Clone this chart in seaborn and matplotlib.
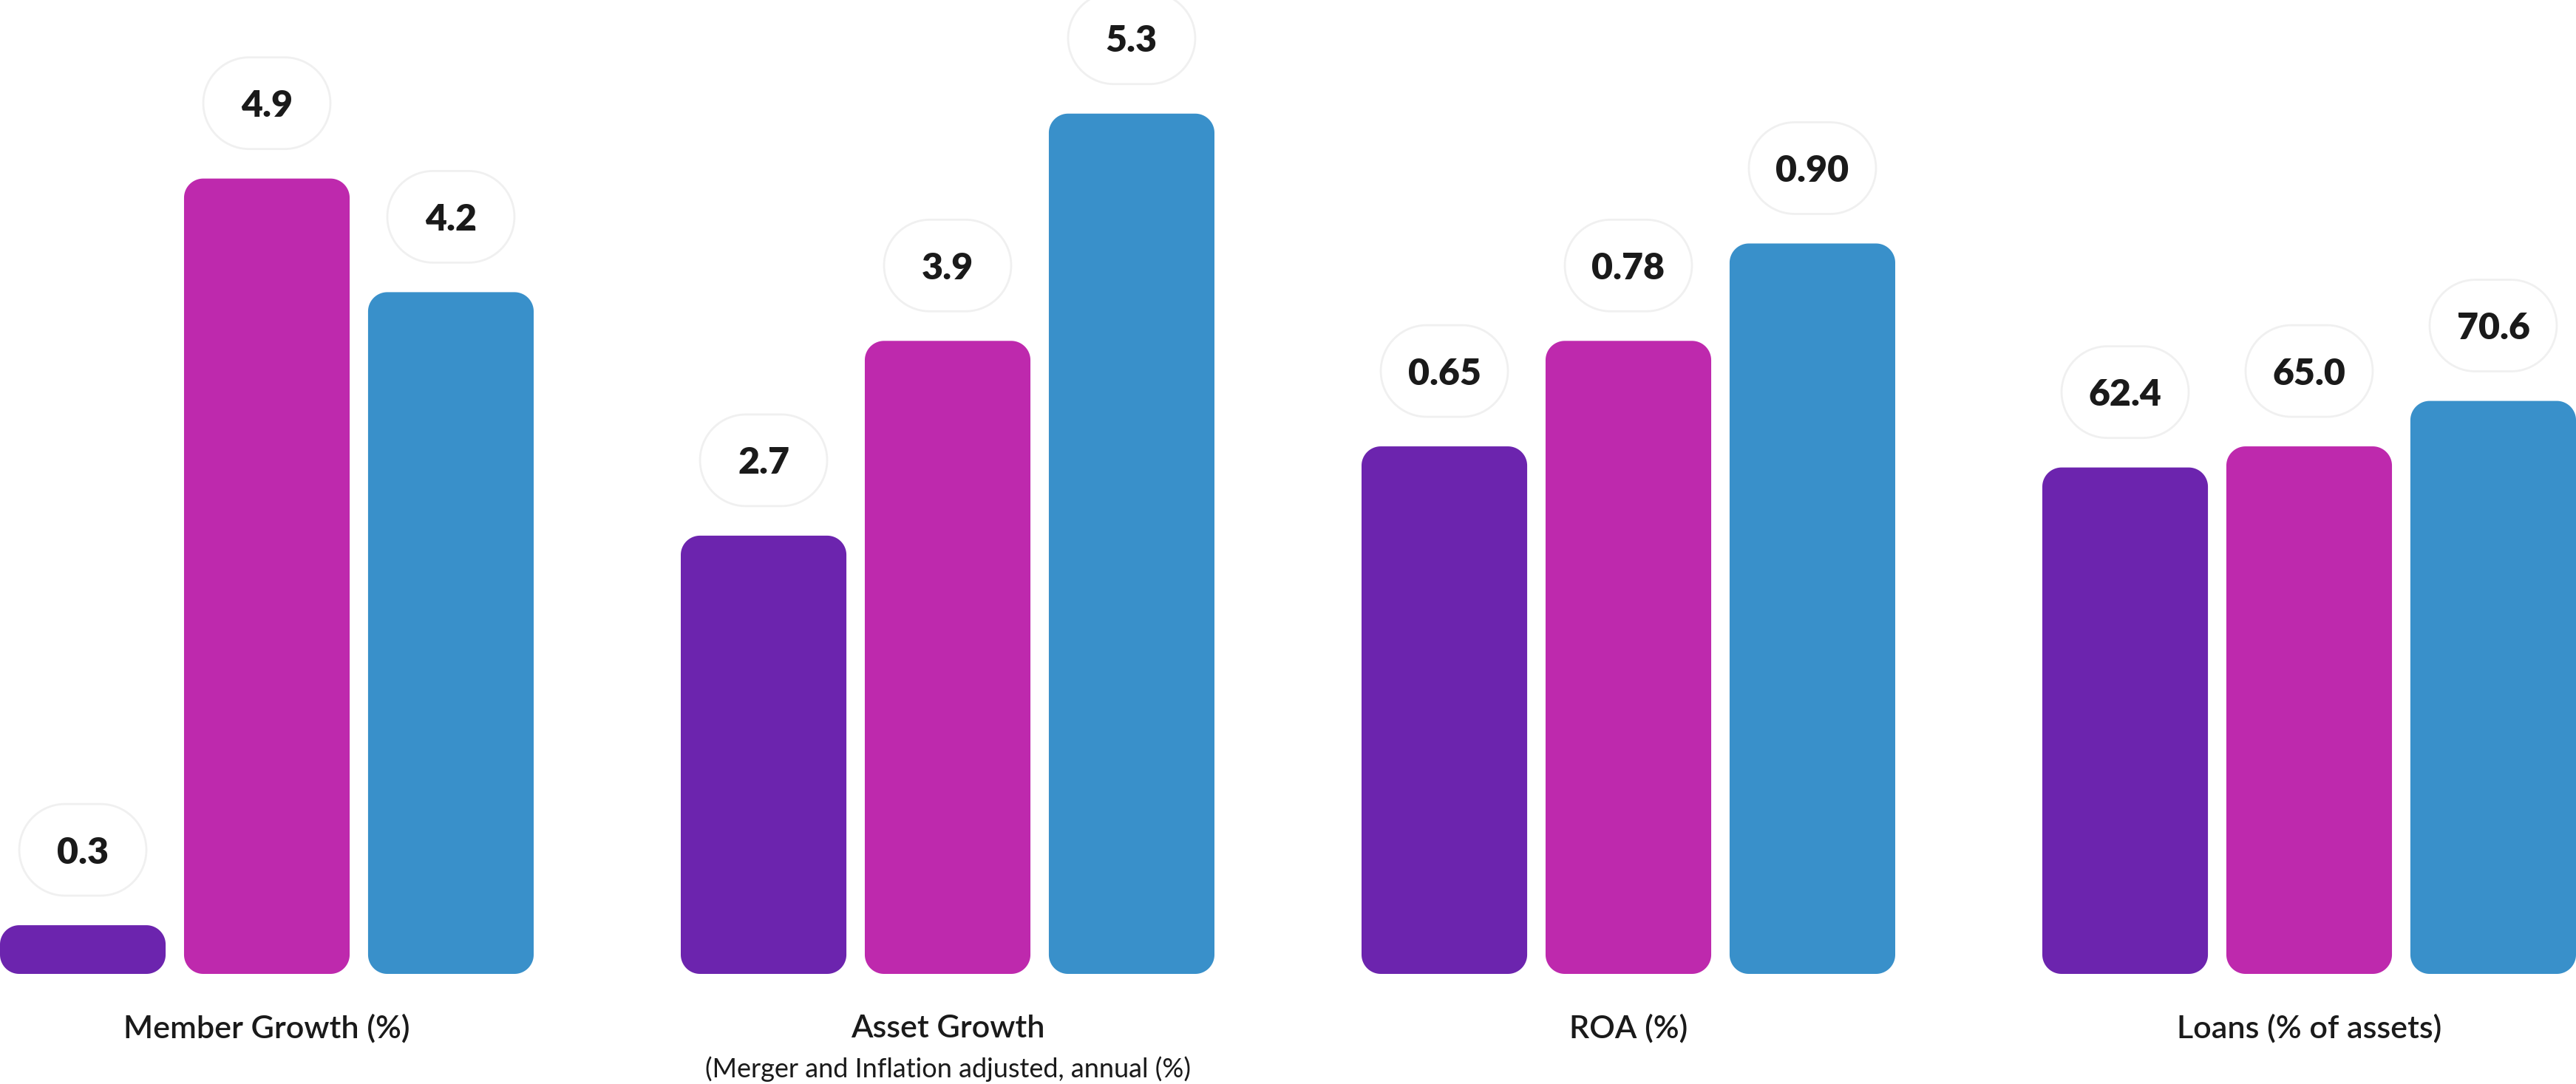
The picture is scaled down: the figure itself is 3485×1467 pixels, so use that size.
import matplotlib
matplotlib.use("Agg")
import matplotlib.pyplot as plt
from matplotlib.patches import Polygon
from matplotlib.transforms import IdentityTransform
import seaborn as sns
import pandas as pd
import numpy as np

# data
metrics = ["Member Growth (%)", "Asset Growth", "ROA (%)", "Loans (% of assets)"]
subtitles = ["", "(Merger and Inflation adjusted, annual (%)", "", ""]
series = ["A", "B", "C"]
values = [
    [0.3, 4.9, 4.2],
    [2.7, 3.9, 5.3],
    [0.65, 0.78, 0.90],
    [62.4, 65.0, 70.6],
]
labels = [
    ["0.3", "4.9", "4.2"],
    ["2.7", "3.9", "5.3"],
    ["0.65", "0.78", "0.90"],
    ["62.4", "65.0", "70.6"],
]
ytops = [6, 6, 1.2, 120]
colors = ["#6C24AE", "#BE29AD", "#3990CA"]


def rounded_rect(x, y, w, h, r, **kw):
    # polygon with circular corners, pixel coords
    r = min(r, w / 2, h / 2)
    pts = []
    for cx, cy, a0 in [(x + w - r, y + r, -90), (x + w - r, y + h - r, 0),
                       (x + r, y + h - r, 90), (x + r, y + r, 180)]:
        t = np.radians(np.linspace(a0, a0 + 90, 24))
        pts.append(np.column_stack([cx + r * np.cos(t), cy + r * np.sin(t)]))
    return Polygon(np.vstack(pts), closed=True, transform=IdentityTransform(),
                   clip_on=False, **kw)


sns.set_theme(style="white")
plt.rcParams['font.family'] = ['Lato', 'DejaVu Sans']

W, H = 3485, 1467
fig = plt.figure(figsize=(W / 100, H / 100), dpi=100)

bottom_px = 149
group_w = 722
step = 921

for i in range(4):
    ax = fig.add_axes([i * step / W, bottom_px / H, group_w / W, (H - bottom_px) / H])
    df = pd.DataFrame({"series": series, "value": values[i]})
    sns.barplot(data=df, x="series", y="value", hue="series", palette=colors,
                saturation=1, width=0.9, legend=False, ax=ax)
    ax.set_xlim(-0.45, 2.45)
    ax.set_ylim(0, ytops[i])
    ax.axis("off")

    # swap bars for rounded ones
    bars = list(ax.patches)
    for j, p in enumerate(bars):
        x0, y0 = ax.transData.transform((p.get_x(), p.get_y()))
        x1, y1 = ax.transData.transform((p.get_x() + p.get_width(), p.get_y() + p.get_height()))
        fig.patches.append(rounded_rect(x0, y0, x1 - x0, y1 - y0, 26,
                                        facecolor=p.get_facecolor(), edgecolor="none", zorder=2))
        p.remove()

        # value pill
        cx = (x0 + x1) / 2
        pw, ph = 172, 124
        py = y1 + 40
        fig.patches.append(rounded_rect(cx - pw / 2, py, pw, ph, ph / 2, facecolor="white",
                                        edgecolor="#F0F0F0", linewidth=2, zorder=3))
        fig.text(cx / W, (py + ph / 2) / H, labels[i][j], ha="center", va="center_baseline",
                 fontsize=36, fontweight="heavy", color="#1A1A1A", zorder=4)

    # category labels
    cx = (i * step + group_w / 2) / W
    fig.text(cx, (H - 1388) / H, metrics[i], ha="center", va="center_baseline",
             fontsize=31, fontweight="semibold", color="#1A1A1A")
    if subtitles[i]:
        fig.text(cx, (H - 1444) / H, subtitles[i], ha="center", va="center_baseline",
                 fontsize=26, color="#1A1A1A")

fig.savefig("out.png", dpi=100, facecolor="white")
